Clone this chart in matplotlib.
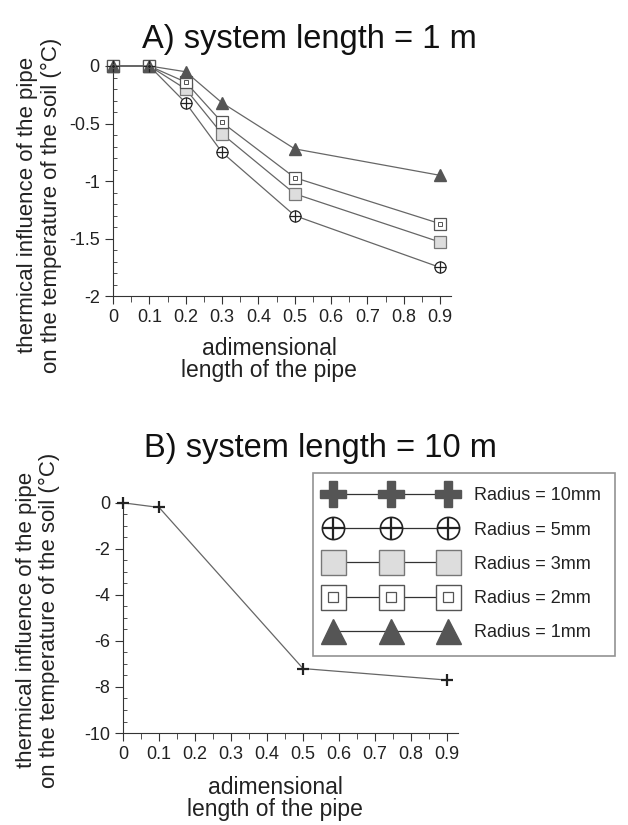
import matplotlib
matplotlib.use("Agg")
import matplotlib.pyplot as plt
from matplotlib.lines import Line2D
from matplotlib.ticker import MultipleLocator, FuncFormatter

# chart A: system length = 1 m
xa = [0, 0.1, 0.2, 0.3, 0.5, 0.9]
a_r1 = [0, 0, -0.05, -0.32, -0.72, -0.95]
a_r2 = [0, 0, -0.14, -0.49, -0.97, -1.37]
a_r3 = [0, 0, -0.20, -0.59, -1.11, -1.53]
a_r5 = [0, 0, -0.32, -0.75, -1.30, -1.75]

# chart B: system length = 10 m
xb = [0, 0.1, 0.5, 0.9]
b_r10 = [0, -0.2, -7.2, -7.7]

xticks = [0, 0.1, 0.2, 0.3, 0.4, 0.5, 0.6, 0.7, 0.8, 0.9]
xtick_labels = ["0", "0.1", "0.2", "0.3", "0.4", "0.5", "0.6", "0.7", "0.8", "0.9"]
legend_labels = ["Radius = 10mm", "Radius = 5mm", "Radius = 3mm", "Radius = 2mm", "Radius = 1mm"]

ylab = "thermical influence of the pipe\non the temperature of the soil (°C)"
xlab = "adimensional\nlength of the pipe"
lc = "#666666"
dark = "#555555"

plt.rcParams["font.family"] = ["Liberation Sans", "DejaVu Sans"]

fig = plt.figure(figsize=(6.28, 8.25), dpi=100)
axA = fig.add_axes([0.18, 0.641, 0.538, 0.279])
axB = fig.add_axes([0.196, 0.1115, 0.533, 0.279])


def fmt(v, pos):
    return "0" if abs(v) < 1e-9 else "%g" % v


def style(ax):
    for s in ["top", "right"]:
        ax.spines[s].set_visible(False)
    ax.spines["left"].set_color("#333333")
    ax.spines["bottom"].set_color("#333333")
    ax.set_xlim(0, 0.93)
    ax.set_xticks(xticks)
    ax.set_xticklabels(xtick_labels)
    ax.xaxis.set_minor_locator(MultipleLocator(0.05))
    ax.yaxis.set_major_formatter(FuncFormatter(fmt))
    ax.tick_params(axis="x", which="major", direction="out", length=6, labelsize=13, colors="#333333", labelcolor="#222222")
    ax.tick_params(axis="x", which="minor", direction="out", length=4, colors="#333333")
    ax.tick_params(axis="y", which="major", direction="out", length=6, labelsize=13, colors="#333333", labelcolor="#222222")
    ax.tick_params(axis="y", which="minor", direction="in", length=3, colors="#333333")
    ax.set_ylabel(ylab, fontsize=16, linespacing=1.15, color="#222222")
    ax.set_xlabel(xlab, fontsize=16.5, linespacing=0.95, color="#222222")


# --- A ---
kw = dict(color=lc, lw=0.9, clip_on=False, zorder=3)
axA.plot(xa, a_r5, marker="o", ms=8, mfc="white", mec="#222222", mew=0.9, **kw)
axA.plot(xa, a_r5, ls="none", marker="+", ms=8, mec="#222222", mew=0.9, clip_on=False, zorder=4)
axA.plot(xa, a_r3, marker="s", ms=8, mfc="#dddddd", mec="#777777", mew=0.9, **kw)
axA.plot(xa, a_r2, marker="s", ms=8.5, mfc="white", mec="#555555", mew=0.9, **kw)
axA.plot(xa, a_r2, ls="none", marker="s", ms=3.5, mfc="none", mec="#555555", mew=0.7, clip_on=False, zorder=4)
axA.plot(xa, a_r1, marker="^", ms=8, mfc=dark, mec=dark, **kw)
axA.set_ylim(-2, 0)
axA.yaxis.set_major_locator(MultipleLocator(0.5))
axA.yaxis.set_minor_locator(MultipleLocator(0.1))
style(axA)
axA.yaxis.set_label_coords(-0.151, 0.395)
axA.xaxis.set_label_coords(0.462, -0.178)
fig.text(309 / 628, 1 - 48 / 825, "A) system length = 1 m", fontsize=23.5,
         ha="center", va="baseline", color="#111111")

# --- B ---
axB.plot(xb, b_r10, marker="+", ms=9, mec="#222222", mew=1.6, **kw)
axB.set_ylim(-10, 0)
axB.yaxis.set_major_locator(MultipleLocator(2))
axB.yaxis.set_minor_locator(MultipleLocator(0.5))
style(axB)
axB.yaxis.set_label_coords(-0.188, 0.49)
axB.xaxis.set_label_coords(0.454, -0.187)
fig.text(320 / 628, 1 - 457 / 825, "B) system length = 10 m", fontsize=23.5,
         ha="center", va="baseline", color="#111111")

# legend
lk = dict(color="#333333", lw=0.9)
h10 = Line2D([], [], marker="P", ms=19, mfc=dark, mec=dark, **lk)
h5a = Line2D([], [], marker="o", ms=16, mfc="white", mec="#222222", mew=1.2, **lk)
h5b = Line2D([], [], ls="none", marker="+", ms=16, mec="#222222", mew=1.6)
h3 = Line2D([], [], marker="s", ms=18, mfc="#dddddd", mec="#777777", **lk)
h2a = Line2D([], [], marker="s", ms=18, mfc="white", mec="#555555", **lk)
h2b = Line2D([], [], ls="none", marker="s", ms=7, mfc="none", mec="#555555", mew=0.9)
h1 = Line2D([], [], marker="^", ms=18, mfc=dark, mec=dark, **lk)
leg = fig.legend([h10, (h5a, h5b), h3, (h2a, h2b), h1], legend_labels,
                 loc="upper left", bbox_to_anchor=(313 / 628, 1 - 473 / 825),
                 borderaxespad=0, numpoints=3, handlelength=7.0, fontsize=13,
                 frameon=True, fancybox=False, edgecolor="#777777",
                 borderpad=0.8, labelspacing=0.95, handletextpad=1.1)
leg.get_frame().set_linewidth(1.2)
for t in leg.get_texts():
    t.set_color("#222222")

fig.savefig("out.png", dpi=100)
